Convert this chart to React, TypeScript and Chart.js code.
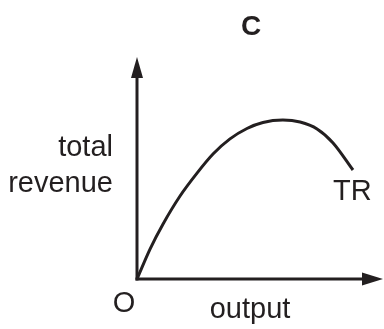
import { useEffect, useRef } from "react";
import { Chart, registerables } from "chart.js";

Chart.register(...registerables);

// Data (x in output units 0..100, y in revenue units 0..100)
const outputValues = [0, 5.3, 10.6, 17.5, 24.4, 30.9, 37.8, 44.7, 51.2, 59.3, 66.3, 73.2, 79.7, 87.8];
const revenueValues = [0, 13.5, 24.8, 37.4, 47.7, 56.3, 63.1, 67.8, 70.5, 71.6, 70.7, 67.6, 61.3, 49.1];

const panelTitle = "C";
const yAxisLabel = ["total", "revenue"];
const xAxisLabel = "output";
const originLabel = "O";
const curveLabel = "TR";

const INK = "#231f20";
const FONT = "'Liberation Sans', Arial, Helvetica, sans-serif";

const axesPlugin = {
  id: "econAxes",
  beforeDatasetsDraw(chart: any) {
    const ctx = chart.ctx;
    const xs = chart.scales.x;
    const ys = chart.scales.y;
    const ox = xs.getPixelForValue(0);
    const oy = ys.getPixelForValue(0);
    const xEnd = xs.getPixelForValue(100);
    const yEnd = ys.getPixelForValue(100);
    ctx.save();
    ctx.strokeStyle = INK;
    ctx.fillStyle = INK;
    ctx.lineWidth = 3;
    ctx.lineCap = "butt";
    // y axis
    ctx.beginPath();
    ctx.moveTo(ox, oy + 1.5);
    ctx.lineTo(ox, yEnd + 18);
    ctx.stroke();
    ctx.beginPath();
    ctx.moveTo(ox, yEnd);
    ctx.lineTo(ox - 6, yEnd + 21);
    ctx.lineTo(ox + 6, yEnd + 21);
    ctx.closePath();
    ctx.fill();
    // x axis
    ctx.beginPath();
    ctx.moveTo(ox - 1.5, oy);
    ctx.lineTo(xEnd - 18, oy);
    ctx.stroke();
    ctx.beginPath();
    ctx.moveTo(xEnd, oy);
    ctx.lineTo(xEnd - 21, oy - 6.5);
    ctx.lineTo(xEnd - 21, oy + 6.5);
    ctx.closePath();
    ctx.fill();
    ctx.restore();
  },
  afterDraw(chart: any) {
    const ctx = chart.ctx;
    ctx.save();
    ctx.fillStyle = INK;
    ctx.textBaseline = "alphabetic";
    ctx.font = `bold 28px ${FONT}`;
    ctx.textAlign = "center";
    ctx.fillText(panelTitle, 251, 35);
    ctx.font = `29px ${FONT}`;
    ctx.textAlign = "right";
    ctx.fillText(yAxisLabel[0], 113, 156);
    ctx.fillText(yAxisLabel[1], 113, 192);
    ctx.textAlign = "left";
    ctx.fillText(curveLabel, 333, 200);
    ctx.textAlign = "center";
    ctx.fillText(originLabel, 124, 312);
    ctx.fillText(xAxisLabel, 250, 318);
    ctx.restore();
  },
};

export default function App() {
  const canvasRef = useRef<HTMLCanvasElement | null>(null);

  useEffect(() => {
    if (!canvasRef.current) return;
    const points = outputValues.map((x, i) => ({ x, y: revenueValues[i] }));
    const chart = new Chart(canvasRef.current, {
      type: "line",
      data: {
        datasets: [
          {
            data: points,
            borderColor: INK,
            borderWidth: 3,
            pointRadius: 0,
            cubicInterpolationMode: "monotone",
            fill: false,
            clip: false as any,
          },
        ],
      },
      options: {
        animation: false,
        responsive: false,
        maintainAspectRatio: false,
        devicePixelRatio: 1,
        layout: { padding: { left: 137, right: 1, top: 57, bottom: 50 } },
        plugins: { legend: { display: false }, tooltip: { enabled: false }, title: { display: false } },
        scales: {
          x: { type: "linear", min: 0, max: 100, display: false },
          y: { type: "linear", min: 0, max: 100, display: false },
        },
      },
      plugins: [axesPlugin],
    });
    return () => chart.destroy();
  }, []);

  return (
    <div style={{ position: "fixed", left: 0, top: 0, width: 384, height: 329, background: "#fff" }}>
      <canvas ref={canvasRef} width={384} height={329} style={{ display: "block", width: 384, height: 329 }} />
    </div>
  );
}
